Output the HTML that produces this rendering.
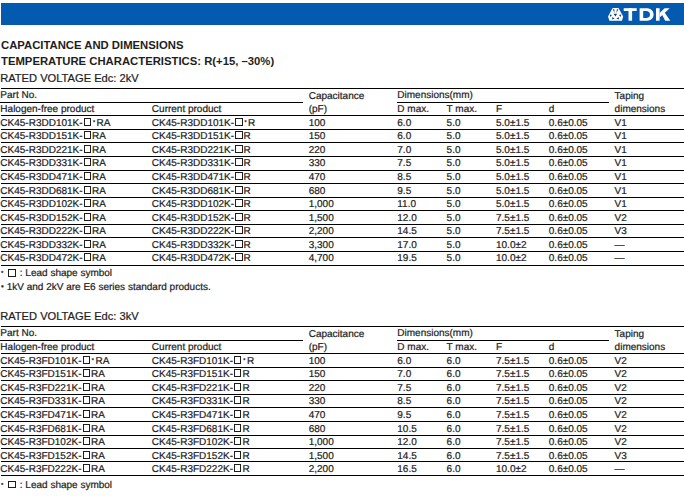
<!DOCTYPE html>
<html><head><meta charset="utf-8"><style>
html,body{margin:0;padding:0;background:#fff;width:684px;height:496px;overflow:hidden;position:relative}
.t{position:absolute;white-space:nowrap;font-family:"Liberation Sans",sans-serif;font-size:10px;line-height:10px;color:#1e1e1e;text-rendering:geometricPrecision;-webkit-text-stroke:0.22px #1e1e1e}
.h{position:absolute;white-space:nowrap;font-family:"Liberation Sans",sans-serif;line-height:10px;color:#1e1e1e;}
.l{position:absolute;height:1px;background:#000}
.bx{display:inline-block;width:5.3px;height:5.6px;border:1px solid #1e1e1e;vertical-align:0px;margin:-1px 1.6px 0 1.1px}
.bn{margin-right:1.1px}
.bx2{display:inline-block;width:6px;height:5.6px;border:1px solid #1e1e1e;vertical-align:-0.5px;margin:-1px 0 0 0}
.st{font-size:5.5px;line-height:0;position:relative;top:-2.1px;margin-left:0.3px;margin-right:1.5px}
.st2{font-size:6px;line-height:0;position:relative;top:-0.8px;margin-right:4.3px}
.cl{margin:0 2.85px 0 4.1px}
.bl{font-size:8px;line-height:0;position:relative;top:-0.6px;margin-right:2.9px}
.bar{position:absolute;left:1px;top:3px;width:683px;height:21.5px;background:#045aae}
</style></head><body>
<div class="bar"></div>
<svg width="84" height="28" viewBox="600 0 84 28" style="position:absolute;left:600px;top:0">
<path d="M613.1 8.1 L618.0 8.1 Q618.5 8.1 618.8 8.6 L622.9 15.9 Q623.2 16.4 623.0 17 L622.1 20.3 Q621.9 20.8 621.4 20.8 L609.9 20.8 Q609.4 20.8 609.2 20.3 L608.2 17 Q608.0 16.4 608.3 15.9 L612.3 8.6 Q612.6 8.1 613.1 8.1 Z" fill="#fff"/>
<g fill="#0d3c78">
<polygon points="612.9,9.2 614.3,9.2 614.5,12.9"/>
<polygon points="616.8,9.2 618.2,9.2 616.6,12.9"/>
<polygon points="613.7,13.8 617.1,13.8 615.4,16.6"/>
<polygon points="609.7,14.5 611.9,15.0 610.5,16.9"/>
<polygon points="612.0,17.2 614.7,18.3 612.3,19.4"/>
<polygon points="621.3,14.5 619.1,15.0 620.5,16.9"/>
<polygon points="619.0,17.2 616.3,18.3 618.7,19.4"/>
</g>
<g fill="#fff">
<rect x="623.7" y="8.2" width="13" height="2.8"/>
<rect x="628.5" y="8.2" width="3.6" height="12.5"/>
<path fill-rule="evenodd" d="M639.6 8.2 H646.3 C651 8.2 653.6 10.8 653.6 14.45 C653.6 18.1 651 20.7 646.3 20.7 H639.6 Z M643.2 11.0 H646.0 C648.7 11.0 650.0 12.4 650.0 14.45 C650.0 16.5 648.7 17.9 646.0 17.9 H643.2 Z"/>
<rect x="656" y="8.2" width="3.6" height="12.5"/>
<polygon points="659.6,12.9 664.6,8.2 669.7,8.2 659.6,17.4"/>
<polygon points="662.0,14.4 664.4,12.3 670.3,20.7 665.2,20.7"/>
</g>
</svg>
<div class="h" style="left:1px;top:40.20px;font-weight:bold;font-size:11.3px">CAPACITANCE AND DIMENSIONS</div>
<div class="h" style="left:1px;top:55.85px;font-weight:bold;font-size:11.3px">TEMPERATURE CHARACTERISTICS: R(+15, –30%)</div>
<div class="h" style="left:0.2px;top:72.95px;font-size:11.14px;-webkit-text-stroke:0.22px #1e1e1e">RATED VOLTAGE Edc: 2kV</div>
<div class="l" style="left:1px;top:88px;width:683px"></div>
<div class="l" style="left:0px;top:102px;width:303px"></div>
<div class="l" style="left:397px;top:102px;width:212px"></div>
<div class="l" style="left:1px;top:115px;width:683px"></div>
<div class="l" style="left:1px;top:129px;width:683px"></div>
<div class="l" style="left:1px;top:142px;width:683px"></div>
<div class="l" style="left:1px;top:156px;width:683px"></div>
<div class="l" style="left:1px;top:170px;width:683px"></div>
<div class="l" style="left:1px;top:183px;width:683px"></div>
<div class="l" style="left:1px;top:197px;width:683px"></div>
<div class="l" style="left:1px;top:210px;width:683px"></div>
<div class="l" style="left:1px;top:224px;width:683px"></div>
<div class="l" style="left:1px;top:237px;width:683px"></div>
<div class="l" style="left:1px;top:251px;width:683px"></div>
<div class="l" style="left:1px;top:265px;width:683px"></div>
<div class="t" style="left:0.35px;top:91.00px;">Part No.</div>
<div class="t" style="left:308.7px;top:92.00px;">Capacitance</div>
<div class="t" style="left:397.3px;top:91.00px;">Dimensions(mm)</div>
<div class="t" style="left:614.6px;top:92.00px;">Taping</div>
<div class="t" style="left:0.35px;top:105.00px;">Halogen-free product</div>
<div class="t" style="left:151.85px;top:105.00px;">Current product</div>
<div class="t" style="left:308.7px;top:105.00px;">(pF)</div>
<div class="t" style="left:397.3px;top:105.00px;">D max.</div>
<div class="t" style="left:446.6px;top:105.00px;">T max.</div>
<div class="t" style="left:496.0px;top:105.00px;">F</div>
<div class="t" style="left:548.8px;top:105.00px;">d</div>
<div class="t" style="left:614.6px;top:105.00px;">dimensions</div>
<div class="t" style="left:0.35px;top:119.00px;">CK45-R3DD101K-<span class="bx"></span><span class="st">*</span>RA</div>
<div class="t" style="left:151.85px;top:119.00px;">CK45-R3DD101K-<span class="bx"></span><span class="st">*</span>R</div>
<div class="t" style="left:308.7px;top:119.00px;">100</div>
<div class="t" style="left:397.3px;top:119.00px;">6.0</div>
<div class="t" style="left:446.6px;top:119.00px;">5.0</div>
<div class="t" style="left:496.0px;top:119.00px;">5.0±1.5</div>
<div class="t" style="left:548.8px;top:119.00px;">0.6±0.05</div>
<div class="t" style="left:614.6px;top:119.00px;">V1</div>
<div class="t" style="left:0.35px;top:132.00px;">CK45-R3DD151K-<span class="bx bn"></span>RA</div>
<div class="t" style="left:151.85px;top:132.00px;">CK45-R3DD151K-<span class="bx bn"></span>R</div>
<div class="t" style="left:308.7px;top:132.00px;">150</div>
<div class="t" style="left:397.3px;top:132.00px;">6.0</div>
<div class="t" style="left:446.6px;top:132.00px;">5.0</div>
<div class="t" style="left:496.0px;top:132.00px;">5.0±1.5</div>
<div class="t" style="left:548.8px;top:132.00px;">0.6±0.05</div>
<div class="t" style="left:614.6px;top:132.00px;">V1</div>
<div class="t" style="left:0.35px;top:146.00px;">CK45-R3DD221K-<span class="bx bn"></span>RA</div>
<div class="t" style="left:151.85px;top:146.00px;">CK45-R3DD221K-<span class="bx bn"></span>R</div>
<div class="t" style="left:308.7px;top:146.00px;">220</div>
<div class="t" style="left:397.3px;top:146.00px;">7.0</div>
<div class="t" style="left:446.6px;top:146.00px;">5.0</div>
<div class="t" style="left:496.0px;top:146.00px;">5.0±1.5</div>
<div class="t" style="left:548.8px;top:146.00px;">0.6±0.05</div>
<div class="t" style="left:614.6px;top:146.00px;">V1</div>
<div class="t" style="left:0.35px;top:159.00px;">CK45-R3DD331K-<span class="bx bn"></span>RA</div>
<div class="t" style="left:151.85px;top:159.00px;">CK45-R3DD331K-<span class="bx bn"></span>R</div>
<div class="t" style="left:308.7px;top:159.00px;">330</div>
<div class="t" style="left:397.3px;top:159.00px;">7.5</div>
<div class="t" style="left:446.6px;top:159.00px;">5.0</div>
<div class="t" style="left:496.0px;top:159.00px;">5.0±1.5</div>
<div class="t" style="left:548.8px;top:159.00px;">0.6±0.05</div>
<div class="t" style="left:614.6px;top:159.00px;">V1</div>
<div class="t" style="left:0.35px;top:173.00px;">CK45-R3DD471K-<span class="bx bn"></span>RA</div>
<div class="t" style="left:151.85px;top:173.00px;">CK45-R3DD471K-<span class="bx bn"></span>R</div>
<div class="t" style="left:308.7px;top:173.00px;">470</div>
<div class="t" style="left:397.3px;top:173.00px;">8.5</div>
<div class="t" style="left:446.6px;top:173.00px;">5.0</div>
<div class="t" style="left:496.0px;top:173.00px;">5.0±1.5</div>
<div class="t" style="left:548.8px;top:173.00px;">0.6±0.05</div>
<div class="t" style="left:614.6px;top:173.00px;">V1</div>
<div class="t" style="left:0.35px;top:187.00px;">CK45-R3DD681K-<span class="bx bn"></span>RA</div>
<div class="t" style="left:151.85px;top:187.00px;">CK45-R3DD681K-<span class="bx bn"></span>R</div>
<div class="t" style="left:308.7px;top:187.00px;">680</div>
<div class="t" style="left:397.3px;top:187.00px;">9.5</div>
<div class="t" style="left:446.6px;top:187.00px;">5.0</div>
<div class="t" style="left:496.0px;top:187.00px;">5.0±1.5</div>
<div class="t" style="left:548.8px;top:187.00px;">0.6±0.05</div>
<div class="t" style="left:614.6px;top:187.00px;">V1</div>
<div class="t" style="left:0.35px;top:200.00px;">CK45-R3DD102K-<span class="bx bn"></span>RA</div>
<div class="t" style="left:151.85px;top:200.00px;">CK45-R3DD102K-<span class="bx bn"></span>R</div>
<div class="t" style="left:308.7px;top:200.00px;">1,000</div>
<div class="t" style="left:397.3px;top:200.00px;">11.0</div>
<div class="t" style="left:446.6px;top:200.00px;">5.0</div>
<div class="t" style="left:496.0px;top:200.00px;">5.0±1.5</div>
<div class="t" style="left:548.8px;top:200.00px;">0.6±0.05</div>
<div class="t" style="left:614.6px;top:200.00px;">V1</div>
<div class="t" style="left:0.35px;top:214.00px;">CK45-R3DD152K-<span class="bx bn"></span>RA</div>
<div class="t" style="left:151.85px;top:214.00px;">CK45-R3DD152K-<span class="bx bn"></span>R</div>
<div class="t" style="left:308.7px;top:214.00px;">1,500</div>
<div class="t" style="left:397.3px;top:214.00px;">12.0</div>
<div class="t" style="left:446.6px;top:214.00px;">5.0</div>
<div class="t" style="left:496.0px;top:214.00px;">7.5±1.5</div>
<div class="t" style="left:548.8px;top:214.00px;">0.6±0.05</div>
<div class="t" style="left:614.6px;top:214.00px;">V2</div>
<div class="t" style="left:0.35px;top:227.00px;">CK45-R3DD222K-<span class="bx bn"></span>RA</div>
<div class="t" style="left:151.85px;top:227.00px;">CK45-R3DD222K-<span class="bx bn"></span>R</div>
<div class="t" style="left:308.7px;top:227.00px;">2,200</div>
<div class="t" style="left:397.3px;top:227.00px;">14.5</div>
<div class="t" style="left:446.6px;top:227.00px;">5.0</div>
<div class="t" style="left:496.0px;top:227.00px;">7.5±1.5</div>
<div class="t" style="left:548.8px;top:227.00px;">0.6±0.05</div>
<div class="t" style="left:614.6px;top:227.00px;">V3</div>
<div class="t" style="left:0.35px;top:241.00px;">CK45-R3DD332K-<span class="bx bn"></span>RA</div>
<div class="t" style="left:151.85px;top:241.00px;">CK45-R3DD332K-<span class="bx bn"></span>R</div>
<div class="t" style="left:308.7px;top:241.00px;">3,300</div>
<div class="t" style="left:397.3px;top:241.00px;">17.0</div>
<div class="t" style="left:446.6px;top:241.00px;">5.0</div>
<div class="t" style="left:496.0px;top:241.00px;">10.0±2</div>
<div class="t" style="left:548.8px;top:241.00px;">0.6±0.05</div>
<div class="t" style="left:614.6px;top:241.00px;">—</div>
<div class="t" style="left:0.35px;top:254.00px;">CK45-R3DD472K-<span class="bx bn"></span>RA</div>
<div class="t" style="left:151.85px;top:254.00px;">CK45-R3DD472K-<span class="bx bn"></span>R</div>
<div class="t" style="left:308.7px;top:254.00px;">4,700</div>
<div class="t" style="left:397.3px;top:254.00px;">19.5</div>
<div class="t" style="left:446.6px;top:254.00px;">5.0</div>
<div class="t" style="left:496.0px;top:254.00px;">10.0±2</div>
<div class="t" style="left:548.8px;top:254.00px;">0.6±0.05</div>
<div class="t" style="left:614.6px;top:254.00px;">—</div>
<div class="t" style="left:1px;top:269.15px;"><span class="st2">*</span><span class="bx2"></span><span class="cl">:</span>Lead shape symbol</div>
<div class="t" style="left:1px;top:282.50px;"><span class="bl">•</span>1kV and 2kV are E6 series standard products.</div>
<div class="h" style="left:0.2px;top:310.85px;font-size:11.14px;-webkit-text-stroke:0.22px #1e1e1e">RATED VOLTAGE Edc: 3kV</div>
<div class="l" style="left:1px;top:326px;width:683px"></div>
<div class="l" style="left:0px;top:340px;width:303px"></div>
<div class="l" style="left:397px;top:340px;width:212px"></div>
<div class="l" style="left:1px;top:353px;width:683px"></div>
<div class="l" style="left:1px;top:367px;width:683px"></div>
<div class="l" style="left:1px;top:380px;width:683px"></div>
<div class="l" style="left:1px;top:394px;width:683px"></div>
<div class="l" style="left:1px;top:407px;width:683px"></div>
<div class="l" style="left:1px;top:421px;width:683px"></div>
<div class="l" style="left:1px;top:435px;width:683px"></div>
<div class="l" style="left:1px;top:448px;width:683px"></div>
<div class="l" style="left:1px;top:461px;width:683px"></div>
<div class="l" style="left:1px;top:475px;width:683px"></div>
<div class="t" style="left:0.35px;top:329.00px;">Part No.</div>
<div class="t" style="left:308.7px;top:330.00px;">Capacitance</div>
<div class="t" style="left:397.3px;top:329.00px;">Dimensions(mm)</div>
<div class="t" style="left:614.6px;top:330.00px;">Taping</div>
<div class="t" style="left:0.35px;top:343.00px;">Halogen-free product</div>
<div class="t" style="left:151.85px;top:343.00px;">Current product</div>
<div class="t" style="left:308.7px;top:343.00px;">(pF)</div>
<div class="t" style="left:397.3px;top:343.00px;">D max.</div>
<div class="t" style="left:446.6px;top:343.00px;">T max.</div>
<div class="t" style="left:496.0px;top:343.00px;">F</div>
<div class="t" style="left:548.8px;top:343.00px;">d</div>
<div class="t" style="left:614.6px;top:343.00px;">dimensions</div>
<div class="t" style="left:0.35px;top:357.00px;">CK45-R3FD101K-<span class="bx"></span><span class="st">*</span>RA</div>
<div class="t" style="left:151.85px;top:357.00px;">CK45-R3FD101K-<span class="bx"></span><span class="st">*</span>R</div>
<div class="t" style="left:308.7px;top:357.00px;">100</div>
<div class="t" style="left:397.3px;top:357.00px;">6.0</div>
<div class="t" style="left:446.6px;top:357.00px;">6.0</div>
<div class="t" style="left:496.0px;top:357.00px;">7.5±1.5</div>
<div class="t" style="left:548.8px;top:357.00px;">0.6±0.05</div>
<div class="t" style="left:614.6px;top:357.00px;">V2</div>
<div class="t" style="left:0.35px;top:370.00px;">CK45-R3FD151K-<span class="bx bn"></span>RA</div>
<div class="t" style="left:151.85px;top:370.00px;">CK45-R3FD151K-<span class="bx bn"></span>R</div>
<div class="t" style="left:308.7px;top:370.00px;">150</div>
<div class="t" style="left:397.3px;top:370.00px;">7.0</div>
<div class="t" style="left:446.6px;top:370.00px;">6.0</div>
<div class="t" style="left:496.0px;top:370.00px;">7.5±1.5</div>
<div class="t" style="left:548.8px;top:370.00px;">0.6±0.05</div>
<div class="t" style="left:614.6px;top:370.00px;">V2</div>
<div class="t" style="left:0.35px;top:384.00px;">CK45-R3FD221K-<span class="bx bn"></span>RA</div>
<div class="t" style="left:151.85px;top:384.00px;">CK45-R3FD221K-<span class="bx bn"></span>R</div>
<div class="t" style="left:308.7px;top:384.00px;">220</div>
<div class="t" style="left:397.3px;top:384.00px;">7.5</div>
<div class="t" style="left:446.6px;top:384.00px;">6.0</div>
<div class="t" style="left:496.0px;top:384.00px;">7.5±1.5</div>
<div class="t" style="left:548.8px;top:384.00px;">0.6±0.05</div>
<div class="t" style="left:614.6px;top:384.00px;">V2</div>
<div class="t" style="left:0.35px;top:397.00px;">CK45-R3FD331K-<span class="bx bn"></span>RA</div>
<div class="t" style="left:151.85px;top:397.00px;">CK45-R3FD331K-<span class="bx bn"></span>R</div>
<div class="t" style="left:308.7px;top:397.00px;">330</div>
<div class="t" style="left:397.3px;top:397.00px;">8.5</div>
<div class="t" style="left:446.6px;top:397.00px;">6.0</div>
<div class="t" style="left:496.0px;top:397.00px;">7.5±1.5</div>
<div class="t" style="left:548.8px;top:397.00px;">0.6±0.05</div>
<div class="t" style="left:614.6px;top:397.00px;">V2</div>
<div class="t" style="left:0.35px;top:411.00px;">CK45-R3FD471K-<span class="bx bn"></span>RA</div>
<div class="t" style="left:151.85px;top:411.00px;">CK45-R3FD471K-<span class="bx bn"></span>R</div>
<div class="t" style="left:308.7px;top:411.00px;">470</div>
<div class="t" style="left:397.3px;top:411.00px;">9.5</div>
<div class="t" style="left:446.6px;top:411.00px;">6.0</div>
<div class="t" style="left:496.0px;top:411.00px;">7.5±1.5</div>
<div class="t" style="left:548.8px;top:411.00px;">0.6±0.05</div>
<div class="t" style="left:614.6px;top:411.00px;">V2</div>
<div class="t" style="left:0.35px;top:425.00px;">CK45-R3FD681K-<span class="bx bn"></span>RA</div>
<div class="t" style="left:151.85px;top:425.00px;">CK45-R3FD681K-<span class="bx bn"></span>R</div>
<div class="t" style="left:308.7px;top:425.00px;">680</div>
<div class="t" style="left:397.3px;top:425.00px;">10.5</div>
<div class="t" style="left:446.6px;top:425.00px;">6.0</div>
<div class="t" style="left:496.0px;top:425.00px;">7.5±1.5</div>
<div class="t" style="left:548.8px;top:425.00px;">0.6±0.05</div>
<div class="t" style="left:614.6px;top:425.00px;">V2</div>
<div class="t" style="left:0.35px;top:438.00px;">CK45-R3FD102K-<span class="bx bn"></span>RA</div>
<div class="t" style="left:151.85px;top:438.00px;">CK45-R3FD102K-<span class="bx bn"></span>R</div>
<div class="t" style="left:308.7px;top:438.00px;">1,000</div>
<div class="t" style="left:397.3px;top:438.00px;">12.0</div>
<div class="t" style="left:446.6px;top:438.00px;">6.0</div>
<div class="t" style="left:496.0px;top:438.00px;">7.5±1.5</div>
<div class="t" style="left:548.8px;top:438.00px;">0.6±0.05</div>
<div class="t" style="left:614.6px;top:438.00px;">V2</div>
<div class="t" style="left:0.35px;top:452.00px;">CK45-R3FD152K-<span class="bx bn"></span>RA</div>
<div class="t" style="left:151.85px;top:452.00px;">CK45-R3FD152K-<span class="bx bn"></span>R</div>
<div class="t" style="left:308.7px;top:452.00px;">1,500</div>
<div class="t" style="left:397.3px;top:452.00px;">14.5</div>
<div class="t" style="left:446.6px;top:452.00px;">6.0</div>
<div class="t" style="left:496.0px;top:452.00px;">7.5±1.5</div>
<div class="t" style="left:548.8px;top:452.00px;">0.6±0.05</div>
<div class="t" style="left:614.6px;top:452.00px;">V3</div>
<div class="t" style="left:0.35px;top:465.00px;">CK45-R3FD222K-<span class="bx bn"></span>RA</div>
<div class="t" style="left:151.85px;top:465.00px;">CK45-R3FD222K-<span class="bx bn"></span>R</div>
<div class="t" style="left:308.7px;top:465.00px;">2,200</div>
<div class="t" style="left:397.3px;top:465.00px;">16.5</div>
<div class="t" style="left:446.6px;top:465.00px;">6.0</div>
<div class="t" style="left:496.0px;top:465.00px;">10.0±2</div>
<div class="t" style="left:548.8px;top:465.00px;">0.6±0.05</div>
<div class="t" style="left:614.6px;top:465.00px;">—</div>
<div class="t" style="left:1px;top:480.60px;"><span class="st2">*</span><span class="bx2"></span><span class="cl">:</span>Lead shape symbol</div>
</body></html>
